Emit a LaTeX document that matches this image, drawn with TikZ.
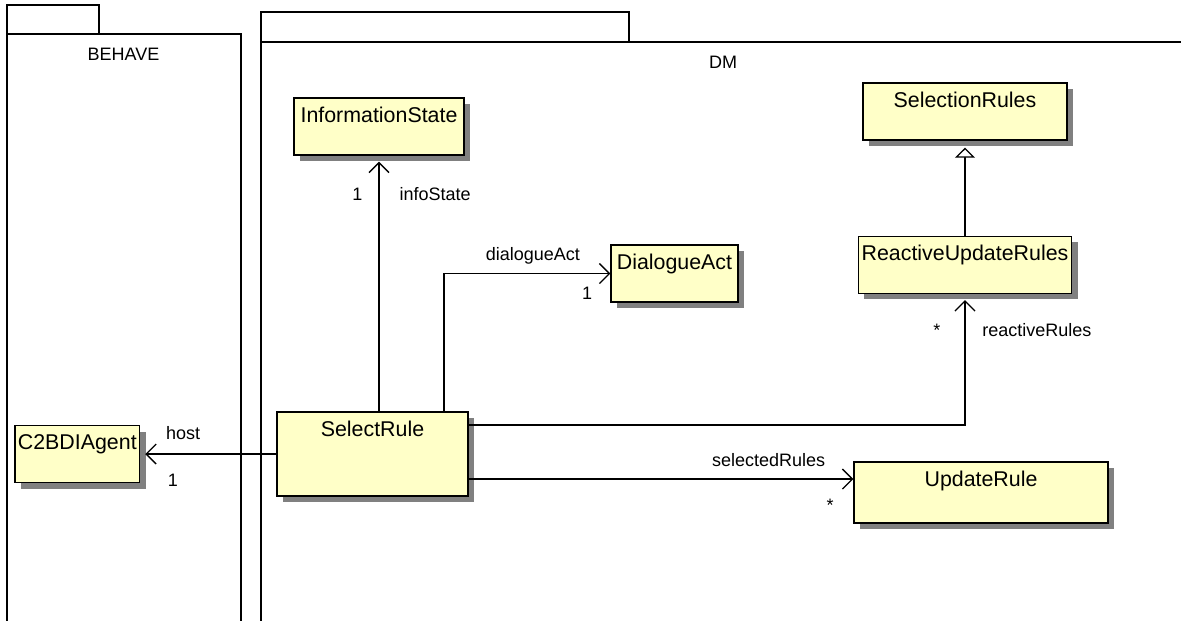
\documentclass[tikz,border=0pt]{standalone}
\usepackage{fontspec}
\setmainfont{Liberation Sans}
\usetikzlibrary{arrows.meta, positioning, shadows}
\definecolor{classyellow}{RGB}{255, 255, 200}
\definecolor{shadowgray}{RGB}{128, 128, 128}

\begin{document}
\begin{tikzpicture}[x=0.025cm, y=-0.025cm,
    umlclass/.style={rectangle, draw=black, fill=classyellow, line width=1pt,
                     inner xsep=2pt, inner ysep=0pt, text height=0.6cm, text depth=0.825cm,
                     font=\fontsize{15.2}{18}\selectfont,
                     drop shadow={shadow xshift=0.15cm, shadow yshift=-0.15cm, fill=shadowgray, opacity=1}},
    pkg/.style={line width=1pt},
    pkglabel/.style={font=\fontsize{12.8}{15}\selectfont},
    assoc/.style={-{Straight Barb[length=0.25cm, width=0.5cm]}, line width=0.9pt},
    gener/.style={-{Triangle[open, length=0.25cm, width=0.5cm, fill=white]}, line width=0.9pt},
    role/.style={font=\fontsize{12.8}{15}\selectfont, inner sep=0pt}
]
\useasboundingbox (0,0) rectangle (1181,620);

% packages
\draw[pkg] (7,625) -- (7,34) -- (241,34) -- (241,625);
\draw[pkg] (7,34) -- (7,5) -- (99,5) -- (99,34);
\draw[pkg] (261,625) -- (261,42) -- (1190,42);
\draw[pkg] (261,42) -- (261,12) -- (629,12) -- (629,42);
\node[pkglabel] (behave) at (123.5,54) {BEHAVE};
\node[pkglabel] (dm) at (723,62) {DM};

% classes
\node[umlclass, minimum width=4.775cm, text depth=1.5cm] (selectrule) at (372.5,454) {SelectRule};
\node[umlclass, minimum width=3.1cm, left=3.4cm of selectrule] (agent) {C2BDIAgent};
\node[umlclass, minimum width=4.25cm] (infostate) at (379,126.5) {InformationState};
\node[umlclass, minimum width=3.175cm] (dialact) at (674.5,273.5) {DialogueAct};
\node[umlclass, minimum width=5.1cm] (selrules) at (965,111.5) {SelectionRules};
\node[umlclass, minimum width=5.325cm, below=2.375cm of selrules] (reactive) {ReactiveUpdateRules};
\node[umlclass, minimum width=6.35cm, text depth=0.925cm] (update) at (981,492.5) {UpdateRule};

% associations
\draw[assoc] (selectrule.west) -- ([xshift=0.125cm]agent.east)
    node[pos=0.71, above=0.35cm, role] {host}
    node[pos=0.79, below=0.475cm, role] {1};
\draw[assoc] (infostate.south |- selectrule.north) -- ([yshift=-0.15cm]infostate.south)
    node[pos=0.87, left=0.4cm, role] {1}
    node[pos=0.87, right=0.5cm, role] {infoState};
\draw[assoc] ([xshift=1.7875cm]selectrule.north) |- (dialact.west)
    node[pos=0.767, above=0.225cm, role] {dialogueAct}
    node[pos=0.93, below=0.325cm, role] {1};
\draw[assoc] ([yshift=0.725cm]selectrule.east) -| ([yshift=-0.15cm]reactive.south)
    node[pos=0.88, left=0.6cm, role] {*}
    node[pos=0.88, right=0.42cm, role] {reactiveRules};
\coordinate (selout) at ([yshift=-0.625cm]selectrule.east);
\draw[assoc] (selout) -- (selout -| update.west)
    node[pos=0.78, above=0.3cm, role] {selectedRules}
    node[pos=0.94, below=0.475cm, role] {*};

% generalization
\draw[gener] (selrules.south |- reactive.north) -- ([yshift=-0.175cm]selrules.south);

\end{tikzpicture}
\end{document}
